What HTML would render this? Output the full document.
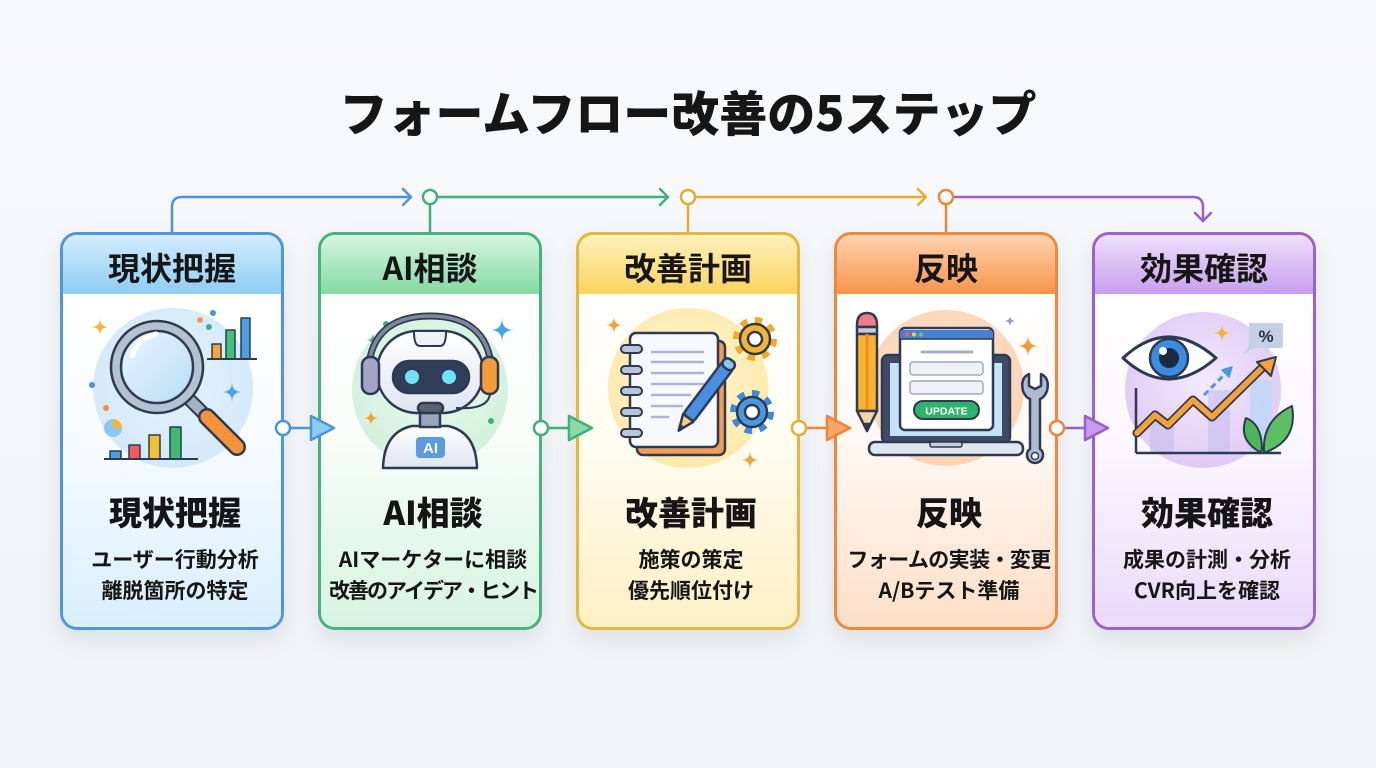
<!DOCTYPE html>
<html><head><meta charset="utf-8">
<style>
*{margin:0;padding:0;box-sizing:border-box}
html,body{width:1376px;height:768px;overflow:hidden}
body{background:linear-gradient(180deg,#f8f9fb 0%,#f1f3f6 100%);position:relative;font-family:"Liberation Sans","Noto Sans CJK JP",sans-serif;color:#161616}
.title{position:absolute;left:0;width:1376px;top:83px;height:54px;line-height:54px;text-align:center;font-family:"Noto Sans CJK JP",sans-serif;font-weight:900;font-size:48px;letter-spacing:0px}
.card{position:absolute;top:232px;width:224px;height:398px;border:3px solid;border-radius:17px;overflow:hidden;box-shadow:0 10px 22px rgba(70,85,120,.13)}
.hdr{height:59px;text-align:center;font-family:"Noto Sans CJK JP",sans-serif;font-weight:700;font-size:32px;padding-top:4px;line-height:56px}
.body{height:333px}
.t{position:absolute;left:0;width:224px;text-align:center;font-family:"Noto Sans CJK JP",sans-serif;font-weight:700;color:#151515}
.t1{top:254px;height:44px;line-height:44px;font-size:33px;font-weight:900}
.t2{top:309px;line-height:31px;font-size:21px}
svg{position:absolute;left:0;top:0}
</style></head><body>
<div class="title">フォームフロー改善の5ステップ</div>

<div class="card" style="left:60px;border-color:#4f97db">
 <div class="hdr" style="background:linear-gradient(#d3ecfc,#8ecdf5)">現状把握</div>
 <div class="body" style="background:linear-gradient(#ffffff 0%,#f7fbff 45%,#d9effd 100%)"></div>
 <div class="t t1">現状把握</div>
 <div class="t t2">ユーザー行動分析<br>離脱箇所の特定</div>
</div>
<div class="card" style="left:318px;border-color:#46b27c">
 <div class="hdr" style="background:linear-gradient(#d6f5df,#84daa3)">AI相談</div>
 <div class="body" style="background:linear-gradient(#ffffff 0%,#f7fdf9 45%,#d6f4e1 100%)"></div>
 <div class="t t1">AI相談</div>
 <div class="t t2">AIマーケターに相談<br><span style="letter-spacing:-2px">改善のアイデア・ヒント</span></div>
</div>
<div class="card" style="left:576px;border-color:#e7b739">
 <div class="hdr" style="background:linear-gradient(#fff1bd,#fbd45e)">改善計画</div>
 <div class="body" style="background:linear-gradient(#ffffff 0%,#fffcf1 45%,#fdf0c4 100%)"></div>
 <div class="t t1">改善計画</div>
 <div class="t t2">施策の策定<br>優先順位付け</div>
</div>
<div class="card" style="left:834px;border-color:#ef8838">
 <div class="hdr" style="background:linear-gradient(#fed3b1,#f7944a)">反映</div>
 <div class="body" style="background:linear-gradient(#ffffff 0%,#fff8f3 45%,#fddfc8 100%)"></div>
 <div class="t t1">反映</div>
 <div class="t t2"><span style="letter-spacing:-0.6px">フォームの実装・変更</span><br>A/Bテスト準備</div>
</div>
<div class="card" style="left:1092px;border-color:#9c61cf">
 <div class="hdr" style="background:linear-gradient(#eee0fb,#c89eee)">効果確認</div>
 <div class="body" style="background:linear-gradient(#ffffff 0%,#fbf7fe 45%,#eadbfa 100%)"></div>
 <div class="t t1">効果確認</div>
 <div class="t t2">成果の計測・分析<br>CVR向上を確認</div>
</div>

<svg width="1376" height="768" viewBox="0 0 1376 768" xmlns="http://www.w3.org/2000/svg">
<defs>
 <radialGradient id="gb" cx="50%" cy="45%" r="55%"><stop offset="0" stop-color="#e6f3fd"/><stop offset="1" stop-color="#d3e9fa"/></radialGradient>
 <radialGradient id="gg" cx="50%" cy="45%" r="55%"><stop offset="0" stop-color="#ecf9f0"/><stop offset="1" stop-color="#d2f1dc"/></radialGradient>
 <radialGradient id="gy" cx="50%" cy="45%" r="55%"><stop offset="0" stop-color="#fff7da"/><stop offset="1" stop-color="#fde9a9"/></radialGradient>
 <radialGradient id="go" cx="50%" cy="45%" r="55%"><stop offset="0" stop-color="#fee9da"/><stop offset="1" stop-color="#fcd3b3"/></radialGradient>
 <radialGradient id="gp" cx="50%" cy="45%" r="55%"><stop offset="0" stop-color="#f3e9fc"/><stop offset="1" stop-color="#e0cbf6"/></radialGradient>
 <linearGradient id="lens" x1="0" y1="0" x2="1" y2="1"><stop offset="0" stop-color="#eaf6fe"/><stop offset="1" stop-color="#b7dcf6"/></linearGradient>
 <linearGradient id="head" x1="0" y1="0" x2="0" y2="1"><stop offset="0" stop-color="#ffffff"/><stop offset="1" stop-color="#dfe5ef"/></linearGradient>
</defs>

<g fill="none" stroke-width="2.5" stroke-linecap="round" stroke-linejoin="round">
 <path d="M172 232 V207 Q172 197 182 197 H410" stroke="#4a94dc"/>
 <path d="M403 189 L411 197 L403 205" stroke="#4a94dc"/>
 <path d="M430 204 V232 M437 197 H667" stroke="#3fb07a"/>
 <path d="M660 189 L668 197 L660 205" stroke="#3fb07a"/>
 <path d="M688 204 V232 M695 197 H925" stroke="#e6ad30"/>
 <path d="M918 189 L926 197 L918 205" stroke="#e6ad30"/>
 <path d="M946 204 V232" stroke="#ef8536"/>
 <path d="M953 197 H1193 Q1203 197 1203 207 V221" stroke="#9a5fcf"/>
 <path d="M1195 213 L1203 221 L1211 213" stroke="#9a5fcf"/>
 <circle cx="430" cy="197" r="7" fill="#fff" stroke="#3fb07a"/>
 <circle cx="688" cy="197" r="7" fill="#fff" stroke="#e6ad30"/>
 <circle cx="946" cy="197" r="7" fill="#fff" stroke="#ef8536"/>
</g>

<g stroke-width="2.5" stroke-linejoin="round">
 <line x1="290" y1="428" x2="310" y2="428" stroke="#4a94dc"/>
 <circle cx="283" cy="428" r="7" fill="#fff" stroke="#4a94dc"/>
 <path d="M311 416 L334 428 L311 440 Z" fill="#8fccf3" stroke="#4a94dc"/>
 <line x1="548" y1="428" x2="568" y2="428" stroke="#3fb07a"/>
 <circle cx="541" cy="428" r="7" fill="#fff" stroke="#3fb07a"/>
 <path d="M569 416 L592 428 L569 440 Z" fill="#8bdaa8" stroke="#3fb07a"/>
 <line x1="806" y1="428" x2="826" y2="428" stroke="#ef8536"/>
 <circle cx="799" cy="428" r="7" fill="#fff" stroke="#e6ad30"/>
 <path d="M827 416 L850 428 L827 440 Z" fill="#f9a766" stroke="#ef8536"/>
 <line x1="1064" y1="428" x2="1084" y2="428" stroke="#9a5fcf"/>
 <circle cx="1057" cy="428" r="7" fill="#fff" stroke="#ef8536"/>
 <path d="M1085 416 L1108 428 L1085 440 Z" fill="#c59bed" stroke="#9a5fcf"/>
</g>

<g stroke="#2e3a52" stroke-width="2" stroke-linejoin="round">
 <circle cx="173" cy="388" r="80" fill="url(#gb)" stroke="none"/>
 <path d="M100 318 Q100 327 109 327 Q100 327 100 336 Q100 327 91 327 Q100 327 100 318Z" fill="#f5b431" stroke="none"/>
 <path d="M232 382 Q232 392 242 392 Q232 392 232 402 Q232 392 222 392 Q232 392 232 382Z" fill="#4aa3e6" stroke="none"/>
 <circle cx="200" cy="320" r="3" fill="#f29a4a" stroke="none"/>
 <circle cx="213" cy="313" r="3" fill="#4a94dc" stroke="none"/>
 <circle cx="209" cy="327" r="3" fill="#3fb07a" stroke="none"/>
 <circle cx="92" cy="385" r="3" fill="#4a94dc" stroke="none"/>
 <circle cx="106" cy="408" r="3" fill="#f28a4a" stroke="none"/>
 <path d="M113 428 L113 419 A9 9 0 0 1 122 428 Z" fill="#f5b431" stroke="none"/>
 <path d="M113 428 L122 428 A9 9 0 1 1 113 419 Z" fill="#8cc6f2" stroke="none"/>
 <rect x="212" y="344" width="9" height="15" fill="#f5a53a" stroke-width="1.5"/>
 <rect x="226" y="330" width="9" height="29" fill="#45c07a" stroke-width="1.5"/>
 <rect x="241" y="318" width="9" height="41" fill="#4a9ee6" stroke-width="1.5"/>
 <line x1="207" y1="359" x2="257" y2="359"/>
 <rect x="110" y="451" width="11" height="8" fill="#4a9ee6" stroke-width="1.5"/>
 <rect x="129" y="445" width="11" height="14" fill="#ee5c5c" stroke-width="1.5"/>
 <rect x="149" y="435" width="11" height="24" fill="#f5c030" stroke-width="1.5"/>
 <rect x="170" y="427" width="11" height="32" fill="#3fba6e" stroke-width="1.5"/>
 <line x1="104" y1="459" x2="198" y2="459"/>
 <line x1="189" y1="399" x2="203" y2="413" stroke="#2e3a52" stroke-width="14" stroke-linecap="round"/>
 <line x1="189" y1="399" x2="203" y2="413" stroke="#a7b2c4" stroke-width="10" stroke-linecap="round"/>
 <line x1="207" y1="417" x2="237" y2="447" stroke="#2e3a52" stroke-width="18" stroke-linecap="round"/>
 <line x1="207" y1="417" x2="237" y2="447" stroke="#f5923a" stroke-width="13" stroke-linecap="round"/>
 <circle cx="157" cy="367" r="46" fill="#b5c0d1" stroke-width="2.5"/>
 <circle cx="157" cy="367" r="36" fill="url(#lens)" stroke-width="2.5"/>
 <path d="M132 356 Q138 338 156 334" fill="none" stroke="#ffffff" stroke-width="5" stroke-linecap="round"/>
</g>

<g stroke="#2e3a52" stroke-width="2.5" stroke-linejoin="round">
 <circle cx="430" cy="390" r="78" fill="url(#gg)" stroke="none"/>
 <path d="M373 333 Q373 340 380 340 Q373 340 373 347 Q373 340 366 340 Q373 340 373 333Z" fill="#3fb07a" stroke="none"/>
 <path d="M502 318 Q502 330 514 330 Q502 330 502 342 Q502 330 490 330 Q502 330 502 318Z" fill="#4aa3e6" stroke="none"/>
 <path d="M371 410 Q371 418 379 418 Q371 418 371 426 Q371 418 363 418 Q371 418 371 410Z" fill="#f5a431" stroke="none"/>
 <circle cx="386" cy="324" r="3" fill="#3fb07a" stroke="none"/>
 <circle cx="491" cy="421" r="3" fill="#3fb07a" stroke="none"/>
 <path d="M383 468 Q384 432 412 426 L448 426 Q476 432 477 468 Z" fill="url(#head)"/>
 <rect x="420" y="409" width="20" height="18" fill="#9aa6ba"/>
 <rect x="416" y="437" width="29" height="21" rx="4" fill="#5b9be2" stroke="none"/>
 <text x="430.5" y="453" text-anchor="middle" font-family="Liberation Sans,sans-serif" font-weight="700" font-size="15" fill="#fff" stroke="none">AI</text>
 <path d="M368 378 Q368 316 430 316 Q492 316 492 378" fill="none" stroke="#2e3a52" stroke-width="7"/>
 <path d="M368 378 Q368 316 430 316 Q492 316 492 378" fill="none" stroke="#7d889c" stroke-width="3.5"/>
 <rect x="377" y="331" width="106" height="82" rx="40" fill="url(#head)"/>
 <path d="M414 332 Q414 346 420 346 L440 346 Q446 346 446 332" fill="#eef1f6" stroke-width="2"/>
 <rect x="393" y="361" width="76" height="32" rx="16" fill="#2f3d5a"/>
 <circle cx="412" cy="377" r="7" fill="#72e2f0" stroke="none"/>
 <circle cx="449" cy="377" r="7" fill="#72e2f0" stroke="none"/>
 <rect x="362" y="357" width="17" height="37" rx="8" fill="#a3a4c6"/>
 <rect x="481" y="357" width="17" height="37" rx="8" fill="#f49b3a"/>
 <path d="M490 394 Q488 410 456 408" fill="none" stroke-width="2"/>
 <rect x="418" y="403" width="25" height="10" rx="5" fill="#5a6272"/>
</g>

<g stroke="#2e3a52" stroke-width="2.5" stroke-linejoin="round">
 <circle cx="688" cy="388" r="80" fill="url(#gy)" stroke="none"/>
 <path d="M614 316 Q614 325 623 325 Q614 325 614 334 Q614 325 605 325 Q614 325 614 316Z" fill="#f5a431" stroke="none"/>
 <path d="M750 451 Q750 460 759 460 Q750 460 750 469 Q750 460 741 460 Q750 460 750 451Z" fill="#f5a431" stroke="none"/>
 <rect x="637" y="341" width="88" height="114" rx="6" fill="#f39c58"/>
 <rect x="630" y="333" width="88" height="114" rx="6" fill="#f6f9fe"/>
 <g stroke="#aab7cc" stroke-width="2.5" stroke-linecap="round">
  <line x1="652" y1="352" x2="703" y2="352"/><line x1="652" y1="362" x2="703" y2="362"/>
  <line x1="652" y1="373" x2="703" y2="373"/><line x1="652" y1="384" x2="703" y2="384"/>
  <line x1="652" y1="395" x2="690" y2="395"/><line x1="652" y1="406" x2="682" y2="406"/>
  <line x1="652" y1="417" x2="668" y2="417"/>
 </g>
 <g fill="#b7c6de" stroke-width="2">
  <rect x="621" y="345" width="21" height="8" rx="4"/><rect x="621" y="366" width="21" height="8" rx="4"/>
  <rect x="621" y="387" width="21" height="8" rx="4"/><rect x="621" y="408" width="21" height="8" rx="4"/>
  <rect x="621" y="429" width="21" height="8" rx="4"/>
 </g>
 <g transform="translate(704 397) rotate(37)">
  <rect x="-6.5" y="-40" width="13" height="66" rx="3" fill="#4a90e2"/>
  <rect x="-6.5" y="-46" width="13" height="10" rx="5" fill="#8cc4f5"/>
  <path d="M-6.5 26 L0 42 L6.5 26 Z" fill="#f7c98a"/>
  <path d="M-2 37 L0 42 L2 37 Z" fill="#2e3a52"/>
 </g>
 <circle cx="755" cy="339" r="18" fill="none" stroke="#f5a823" stroke-width="8" stroke-dasharray="7 7.1"/>
 <circle cx="755" cy="339" r="15" fill="#f5b431"/>
 <circle cx="755" cy="339" r="7" fill="#fff"/>
 <circle cx="752" cy="412" r="18" fill="none" stroke="#3d8ad8" stroke-width="8" stroke-dasharray="7 7.1"/>
 <circle cx="752" cy="412" r="15" fill="#4a98e4"/>
 <circle cx="752" cy="412" r="7" fill="#fff"/>
</g>

<g stroke="#2e3a52" stroke-width="2.5" stroke-linejoin="round">
 <circle cx="946" cy="388" r="78" fill="url(#go)" stroke="none"/>
 <path d="M1010 315 Q1010 321 1016 321 Q1010 321 1010 327 Q1010 321 1004 321 Q1010 321 1010 315Z" fill="#8f9fc8" stroke="none"/>
 <path d="M1028 335 Q1028 346 1039 346 Q1028 346 1028 357 Q1028 346 1017 346 Q1028 346 1028 335Z" fill="#f59a3a" stroke="none"/>
 <path d="M857 325 Q857 313 867 313 Q877 313 877 325 L877 327 L857 327 Z" fill="#f07c86"/>
 <rect x="857" y="327" width="20" height="7" fill="#c5ccd8"/>
 <rect x="857" y="334" width="20" height="77" fill="#f7b52e"/>
 <line x1="867" y1="334" x2="867" y2="411" stroke="#f08a2a" stroke-width="3"/>
 <path d="M857 411 L867 431 L877 411 Z" fill="#f6d4a8"/>
 <path d="M864 424 L867 431 L870 424 Z" fill="#2e3a52"/>
 <rect x="882" y="355" width="128" height="88" rx="6" fill="#3d4b66"/>
 <rect x="890" y="363" width="112" height="73" fill="#c4e3f8" stroke="none"/>
 <rect x="869" y="442" width="154" height="13" rx="6" fill="#dfe6f0"/>
 <rect x="930" y="442" width="32" height="5" rx="2" fill="#c8d1de" stroke-width="1.5"/>
 <rect x="900" y="328" width="93" height="102" rx="5" fill="#ffffff"/>
 <path d="M902 330 Q900 330 900 333 L900 339 L993 339 L993 333 Q993 330 990 330 Z" fill="#4a7fd4" stroke="none"/>
 <line x1="900" y1="339" x2="993" y2="339" stroke-width="1.5"/>
 <circle cx="907" cy="334.5" r="2" fill="#f06060" stroke="none"/>
 <circle cx="914" cy="334.5" r="2" fill="#f5d040" stroke="none"/>
 <circle cx="921" cy="334.5" r="2" fill="#58d07a" stroke="none"/>
 <line x1="922" y1="352" x2="972" y2="352" stroke="#a7b2c4" stroke-width="3" stroke-linecap="round"/>
 <rect x="910" y="362" width="73" height="13" rx="3" fill="#eef2f8" stroke="#9eabbf" stroke-width="1.5"/>
 <rect x="910" y="381" width="73" height="13" rx="3" fill="#eef2f8" stroke="#9eabbf" stroke-width="1.5"/>
 <rect x="914" y="401" width="65" height="18" rx="9" fill="#2fb36a" stroke-width="2"/>
 <text x="946.5" y="414.5" text-anchor="middle" font-family="Liberation Sans,sans-serif" font-weight="700" font-size="10.5" fill="#fff" stroke="none">UPDATE</text>
 <path d="M1023 391 Q1020 378 1029 374 L1029 386 L1035 389 L1041 386 L1041 374 Q1050 378 1047 391 Q1044 398 1040 399 L1040 449 A7 7 0 0 1 1043 455 A8 8 0 1 1 1027 455 A7 7 0 0 1 1030 449 L1030 399 Q1026 398 1023 391Z" fill="#aebbd0"/>
 <circle cx="1035" cy="456" r="3.5" fill="#fff" stroke-width="1.5"/>
</g>

<g stroke="#2e3a52" stroke-width="2.5" stroke-linejoin="round">
 <circle cx="1203" cy="390" r="78" fill="url(#gp)" stroke="none"/>
 <rect x="1208" y="390" width="22" height="63" fill="#c9c2f0" stroke="none" opacity=".7"/>
 <rect x="1150" y="420" width="24" height="33" fill="#c9c2f0" stroke="none" opacity=".7"/>
 <rect x="1250" y="380" width="22" height="73" fill="#bcd7f5" stroke="none" opacity=".8"/>
 <path d="M1222 324 Q1222 333 1231 333 Q1222 333 1222 342 Q1222 333 1213 333 Q1222 333 1222 324Z" fill="#f5b431" stroke="none"/>
 <path d="M1249 323 H1282 Q1283 323 1283 325 V346 Q1283 348 1281 348 H1254 L1243 355 L1249 346 Z" fill="#c5d0e4" stroke="none"/>
 <text x="1266" y="342" text-anchor="middle" font-family="Liberation Sans,sans-serif" font-weight="700" font-size="17" fill="#253048" stroke="none">%</text>
 <path d="M1123 358 Q1168 316 1216 358 Q1168 400 1123 358Z" fill="#ffffff" stroke-width="3"/>
 <circle cx="1169" cy="358" r="19" fill="#3b8de0"/>
 <circle cx="1169" cy="358" r="10" fill="#1e2a44" stroke="none"/>
 <circle cx="1163" cy="351" r="4" fill="#fff" stroke="none"/>
 <line x1="1136" y1="388" x2="1136" y2="453"/>
 <line x1="1136" y1="453" x2="1281" y2="453"/>
 <polyline points="1137,433 1155,415 1168,425 1193,400 1212,417 1266,364" fill="none" stroke="#2e3a52" stroke-width="9" stroke-linecap="round"/>
 <polyline points="1137,433 1155,415 1168,425 1193,400 1212,417 1266,364" fill="none" stroke="#f5a23a" stroke-width="5.5" stroke-linecap="round"/>
 <path d="M1257 362 L1276 357 L1271 376 Z" fill="#f5a23a" stroke-width="2"/>
 <line x1="1204" y1="395" x2="1228" y2="371" stroke="#4a98e4" stroke-width="3" stroke-dasharray="6 4"/>
 <path d="M1222 370 L1232 367 L1229 377 Z" fill="#4a98e4" stroke="#4a98e4" stroke-width="1.5"/>
 <path d="M1260 452 Q1238 440 1246 418 Q1262 424 1262 450 Z" fill="#4fb657" stroke-width="2"/>
 <path d="M1264 452 Q1262 420 1292 406 Q1298 440 1266 452 Z" fill="#5cc062" stroke-width="2"/>
</g>
</svg>
</body></html>
